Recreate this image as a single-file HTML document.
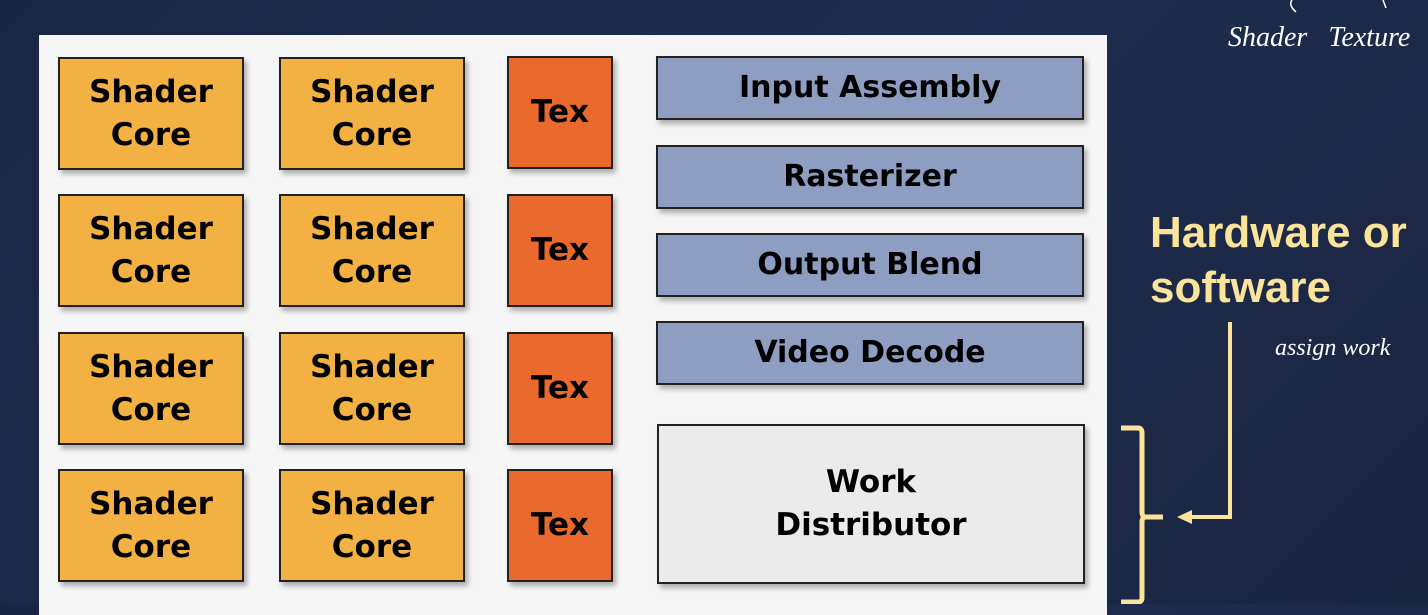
<!DOCTYPE html>
<html><head><style>
body{margin:0;width:1428px;height:604px;overflow:hidden;background:linear-gradient(135deg,#1a2744,#1e2d4f 50%,#1a2540);font-family:"DejaVu Sans","Liberation Sans",sans-serif;position:relative}
.p{position:absolute;left:39px;top:35px;width:1068px;height:580px;background:#f6f6f7}
.b{position:absolute;box-sizing:border-box;border:2px solid #222;display:flex;align-items:center;justify-content:center;text-align:center;font-weight:bold;color:#000;box-shadow:3px 4px 5px rgba(0,0,0,.3);line-height:1.38}
.s{background:#f3b143;font-size:31px;width:186px;height:113px}
.t{background:#ea692c;font-size:31px;width:106px;height:113px;left:507px}
.u{background:#8e9ec3;font-size:30px;width:428px;height:64px;left:656px}
.hw{position:absolute;color:#fbe39a;font-family:"Liberation Sans",sans-serif;font-weight:bold;font-size:44px;line-height:55px;left:1150px;top:205px;white-space:nowrap}
.h{position:absolute;color:#fff;font-family:"Liberation Serif",serif;font-style:italic;font-size:28px;font-weight:normal}
</style></head><body>
<div class="p"></div>
<div class="b s" style="left:58px;top:57px">Shader<br>Core</div>
<div class="b s" style="left:279px;top:57px">Shader<br>Core</div>
<div class="b s" style="left:58px;top:194px">Shader<br>Core</div>
<div class="b s" style="left:279px;top:194px">Shader<br>Core</div>
<div class="b s" style="left:58px;top:332px">Shader<br>Core</div>
<div class="b s" style="left:279px;top:332px">Shader<br>Core</div>
<div class="b s" style="left:58px;top:469px">Shader<br>Core</div>
<div class="b s" style="left:279px;top:469px">Shader<br>Core</div>
<div class="b t" style="top:56px">Tex</div>
<div class="b t" style="top:194px">Tex</div>
<div class="b t" style="top:332px">Tex</div>
<div class="b t" style="top:469px">Tex</div>
<div class="b u" style="top:56px">Input Assembly</div>
<div class="b u" style="top:145px">Rasterizer</div>
<div class="b u" style="top:233px">Output Blend</div>
<div class="b u" style="top:321px">Video Decode</div>
<div class="b" style="left:657px;top:424px;width:428px;height:160px;background:#ebebeb;font-size:31px">Work<br>Distributor</div>
<div class="hw">Hardware or<br>software</div>
<div class="h" style="left:1228px;top:22px">Shader&nbsp;&nbsp;&nbsp;Texture</div>
<div class="h" style="left:1275px;top:335px;font-size:24px">assign work</div>
<svg style="position:absolute;left:0;top:0" width="1428" height="604">
<path d="M1121 428 H1138 Q1142 428 1142 433 V512 Q1142 517 1146 517 H1163 M1146 517 Q1142 517 1142 522 V598 Q1142 602 1138 602 H1121" fill="none" stroke="#fbe39a" stroke-width="5"/>
<path d="M1230 322 V517 H1190" fill="none" stroke="#fbe39a" stroke-width="4"/>
<path d="M1177 517 L1192 510 V524 Z" fill="#fbe39a"/>
<path d="M1296 12 Q1288 5 1292 0 M1386 8 L1383 0" stroke="#fff" fill="none" stroke-width="1.5"/>
</svg>
</body></html>
